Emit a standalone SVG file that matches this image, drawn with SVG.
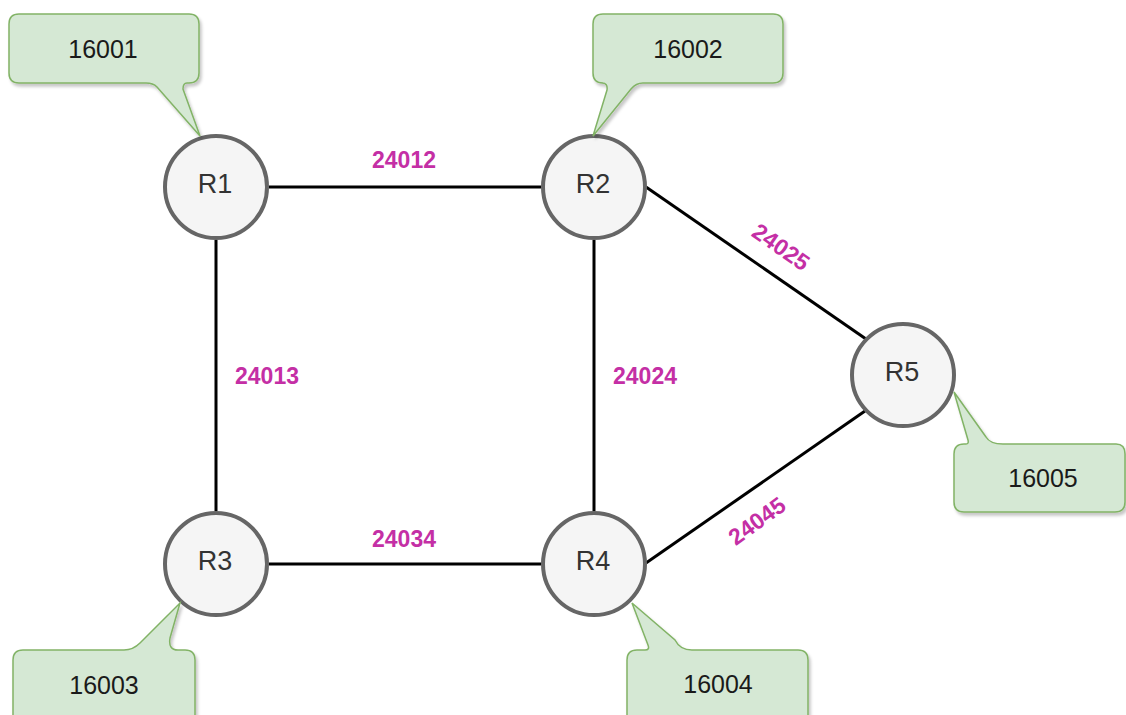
<svg xmlns="http://www.w3.org/2000/svg" width="1126" height="715" viewBox="0 0 1126 715">
  <defs>
    <filter id="sh" x="-10%" y="-10%" width="130%" height="130%">
      <feDropShadow dx="2" dy="3" stdDeviation="1.5" flood-color="#000" flood-opacity="0.22"/>
    </filter>
  </defs>
  <style>
    .node circle { fill: #f5f5f5; stroke: #666666; stroke-width: 4; }
    .node text { font-family: "Liberation Sans", Arial, sans-serif; font-size: 27px; fill: #333333; text-anchor: middle; }
    .callout path { fill: #d5e8d4; stroke: #82b366; stroke-width: 1.5; filter: url(#sh); }
    .callout text { font-family: "Liberation Sans", Arial, sans-serif; font-size: 25px; fill: #1a1a1a; text-anchor: middle; }
    .edges line { stroke: #000000; stroke-width: 3; }
    .elabel { font-family: "Liberation Sans", Arial, sans-serif; font-size: 23px; font-weight: bold; fill: #C42FA5; text-anchor: middle; }
  </style>
  <rect width="1126" height="715" fill="#ffffff"/>

  <g id="connectors" class="edges">
    <line x1="269" y1="187" x2="541" y2="187"/>
    <line x1="216" y1="240" x2="216" y2="511"/>
    <line x1="594" y1="240" x2="594" y2="511"/>
    <line x1="269" y1="564" x2="541" y2="564"/>
    <line x1="646" y1="187" x2="866" y2="339"/>
    <line x1="646" y1="563" x2="865" y2="411"/>
    <text class="elabel" x="404" y="168">24012</text>
    <text class="elabel" x="267" y="384">24013</text>
    <text class="elabel" x="645" y="384">24024</text>
    <text class="elabel" x="404" y="547">24034</text>
    <text class="elabel" transform="translate(781 247) rotate(35)" x="0" y="8">24025</text>
    <text class="elabel" transform="translate(757 521) rotate(-36)" x="0" y="8">24045</text>
  </g>

  <g id="R1" class="node">
    <circle cx="216" cy="187" r="51"/>
    <text x="215" y="193">R1</text>
  </g>
  <g id="R2" class="node">
    <circle cx="594" cy="187" r="51"/>
    <text x="593" y="193">R2</text>
  </g>
  <g id="R3" class="node">
    <circle cx="216" cy="564" r="51"/>
    <text x="215" y="570">R3</text>
  </g>
  <g id="R4" class="node">
    <circle cx="594" cy="564" r="51"/>
    <text x="593" y="570">R4</text>
  </g>
  <g id="R5" class="node">
    <circle cx="903" cy="375" r="51"/>
    <text x="902" y="381">R5</text>
  </g>

  <g id="C1" class="callout">
    <path d="M19,14 H189 Q199,14 199,24 V73 Q199,83 189,83 H187 Q183,83 183,89 L200,136 L157,87 Q153,83 146,83 H19 Q9,83 9,73 V24 Q9,14 19,14 Z"/>
    <text x="103" y="58">16001</text>
  </g>
  <g id="C2" class="callout">
    <path d="M603,14 H773 Q783,14 783,24 V73 Q783,83 773,83 H643 Q636,83 631,89 L593,136 L607,90 Q608,83 602,83 H603 Q593,83 593,73 V24 Q593,14 603,14 Z"/>
    <text x="688" y="58">16002</text>
  </g>
  <g id="C5" class="callout">
    <path d="M964,444 H966 Q969,444 968,440 L954,392 L986,437 Q990,444 1003,444 H1116 Q1125,444 1125,454 V502 Q1125,512 1115,512 H964 Q954,512 954,502 V454 Q954,444 964,444 Z"/>
    <text x="1043" y="487">16005</text>
  </g>
  <g id="C3" class="callout">
    <path d="M23,650 H124 Q133,650 140,643 L180,603 L170,638 Q168,650 178,650 H185 Q195,650 195,660 V728 H13 V660 Q13,650 23,650 Z"/>
    <text x="104" y="694">16003</text>
  </g>
  <g id="C4" class="callout">
    <path d="M637,650 H645 Q650,650 648,645 L632,603 L675,640 Q680,650 692,650 H798 Q808,650 808,660 V728 H627 V660 Q627,650 637,650 Z"/>
    <text x="718" y="693">16004</text>
  </g>
</svg>
